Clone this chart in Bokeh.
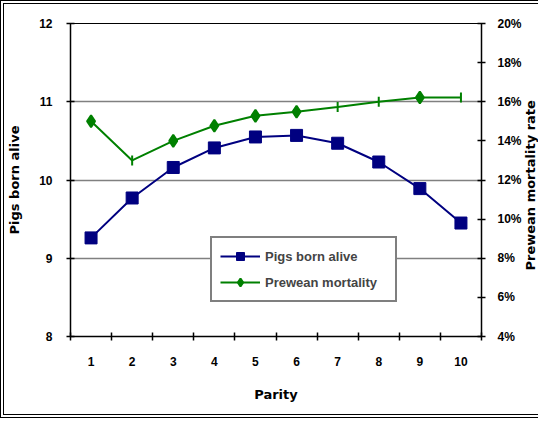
from bokeh.plotting import figure
from bokeh.layouts import row
from bokeh.models import Range1d, LinearAxis, FixedTicker, PrintfTickFormatter, Legend, LegendItem, ColumnDataSource, Label
from bokeh.embed import file_html
from bokeh.resources import INLINE
import math

parity = [1, 2, 3, 4, 5, 6, 7, 8, 9, 10]
pigs_born_alive = [9.26, 9.77, 10.16, 10.41, 10.55, 10.57, 10.47, 10.23, 9.89, 9.45]
prewean_mortality = [15.0, 13.0, 14.0, 14.77, 15.28, 15.49, 15.73, 16.0, 16.22, 16.22]
mortality_markers = ["diamond", "dash", "diamond", "diamond", "diamond", "diamond", "dash", "dash", "diamond", "dash"]
left_ticks = [8, 9, 10, 11, 12]
right_ticks = [4, 6, 8, 10, 12, 14, 16, 18, 20]

FONT = "Liberation Sans"
TFONT = "DejaVu Sans"
BORDER = "4px double black"

p = figure(width=522, height=418, output_backend="svg", toolbar_location=None,
           x_range=Range1d(0.5, 10.5), y_range=Range1d(8, 12),
           min_border_left=65, min_border_right=45, min_border_top=19, min_border_bottom=86)
p.styles = {"border-top": BORDER, "border-left": BORDER, "border-bottom": BORDER}
p.extra_y_ranges = {"right": Range1d(4, 20)}
p.outline_line_color = "black"
p.outline_line_width = 1
p.background_fill_color = "white"
p.border_fill_color = "white"

# x axis
xa = p.xaxis[0]
xa.ticker = FixedTicker(ticks=parity, minor_ticks=[v - 0.5 for v in parity] + [parity[-1] + 0.5])
xa.major_tick_line_color = None
xa.major_tick_out = 4
xa.major_tick_in = 0
xa.minor_tick_line_color = "black"
xa.minor_tick_line_width = 1.5
xa.minor_tick_in = 4
xa.minor_tick_out = 4
xa.axis_line_color = "black"
xa.axis_line_width = 1.5
xa.major_label_standoff = 16
xa.axis_label = "Parity"
xa.axis_label_standoff = 18

# left axis
ya = p.yaxis[0]
ya.ticker = FixedTicker(ticks=left_ticks)
ya.major_tick_in = 4
ya.major_tick_out = 4
ya.major_tick_line_width = 1.5
ya.minor_tick_line_color = None
ya.axis_line_width = 1.5
ya.major_label_standoff = 14
ya.axis_label = "Pigs born alive"
ya.axis_label_standoff = 14

# right axis (ticks)
ra = LinearAxis(y_range_name="right", ticker=FixedTicker(ticks=right_ticks),
                formatter=PrintfTickFormatter(format="%d%%"))
ra.major_tick_in = 4
ra.major_tick_out = 4
ra.major_tick_line_width = 1.5
ra.minor_tick_line_color = None
ra.axis_line_width = 1.5
ra.major_label_standoff = 12
p.add_layout(ra, "right")

for ax in [xa, ya, ra]:
    ax.major_label_text_font = FONT
    ax.major_label_text_font_style = "bold"
    ax.major_label_text_font_size = "12px"
    ax.major_label_text_color = "black"
    ax.axis_label_text_font = TFONT
    ax.axis_label_text_font_style = "bold"
    ax.axis_label_text_font_size = "13px"
    ax.axis_label_text_color = "black"

p.xgrid.grid_line_color = None
p.ygrid.ticker = FixedTicker(ticks=left_ticks[1:-1])
p.ygrid.grid_line_color = "#808080"
p.ygrid.grid_line_width = 1.5

src_m = ColumnDataSource(dict(x=parity, y=prewean_mortality, m=mortality_markers,
                              a=[math.pi / 2 if m == "dash" else 0 for m in mortality_markers],
                              s=[10 if m == "dash" else 12 for m in mortality_markers]))

l1 = p.line(parity, pigs_born_alive, line_color="#000080", line_width=2)
s1 = p.scatter(parity, pigs_born_alive, marker="square", size=12, fill_color="#000080", line_color="#000080")
l2 = p.line(parity, prewean_mortality, line_color="#008000", line_width=2, y_range_name="right")
s2 = p.scatter(x="x", y="y", marker="m", angle="a", size="s", source=src_m, fill_color="#008000",
               line_color="#008000", line_width=2, y_range_name="right")

legend = Legend(items=[LegendItem(label="Pigs born alive", renderers=[l1, s1]),
                       LegendItem(label="Prewean mortality", renderers=[l2, s2])],
                location=(140, 34))
legend.border_line_color = "black"
legend.border_line_width = 2
legend.background_fill_color = "white"
legend.background_fill_alpha = 1
legend.label_text_font = FONT
legend.label_text_font_style = "bold"
legend.label_text_font_size = "13px"
legend.glyph_width = 40
legend.label_width = 122
legend.spacing = 6
legend.padding = 8
legend.margin = 0
p.add_layout(legend, "center")

# strip holding the right-hand axis title (reads bottom to top)
t = figure(width=16, height=418, output_backend="svg", toolbar_location=None,
           x_range=Range1d(0, 1), y_range=Range1d(0, 1),
           min_border_left=0, min_border_right=0, min_border_top=0, min_border_bottom=0)
t.styles = {"border-top": BORDER, "border-bottom": BORDER}
t.axis.visible = False
t.grid.visible = False
t.outline_line_color = None
t.background_fill_color = "white"
t.border_fill_color = "white"
t.add_layout(Label(x=0.5, y=0.483, text="Prewean mortality rate", angle=math.pi / 2,
                   text_align="center", text_baseline="middle", text_font=TFONT,
                   text_font_style="bold", text_font_size="13px", text_color="black"))

layout = row(p, t, spacing=0)
open("out.html", "w").write(file_html(layout, INLINE))
